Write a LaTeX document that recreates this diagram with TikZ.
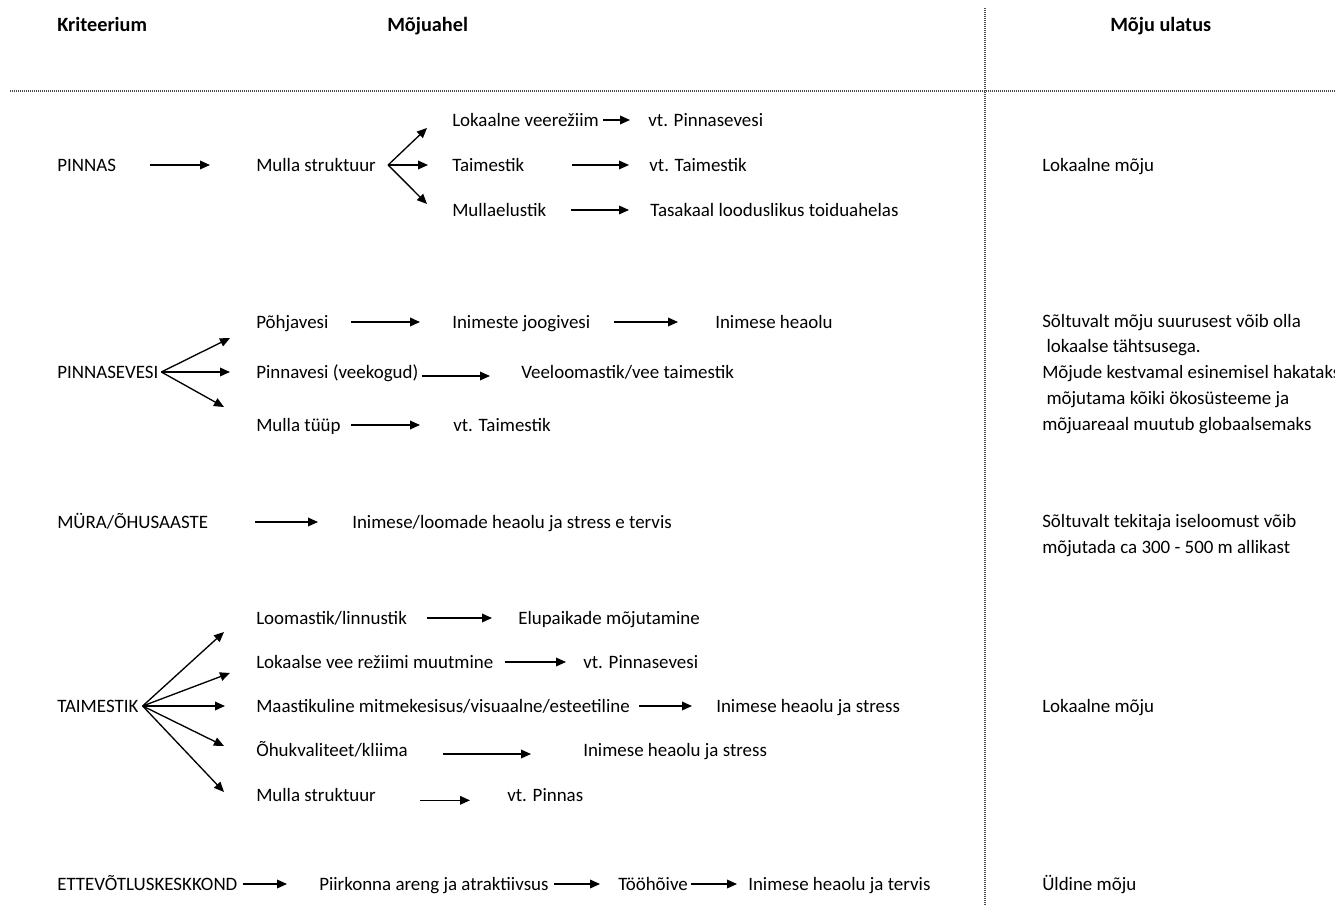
\documentclass[tikz,border=0pt]{standalone}
\usepackage{fontspec}
\setmainfont{Carlito}
\usetikzlibrary{arrows.meta}
\usetikzlibrary{positioning}
\tikzset {
  % one line of text, west anchor on the middle of the capitals
  item/.style = {
    anchor = west,
    inner sep = 0,
    text height = 11pt,
    text depth = 1.9pt,
    font = \fontsize{14.2}{17}\selectfont
  },
  head/.style = {
    item,
    font = \fontsize{15.2}{18}\selectfont\bfseries
  },
  % arrow between two texts
  arr/.style = {
    draw = black,
    line width = 1pt,
    -{Triangle[length = 7.5pt, width = 6.5pt]}
  },
  % gaps (in pixels) left at the start and end of an arrow
  gap/.style 2 args = {
    shorten <= #1*0.75pt,
    shorten >= #2*0.75pt
  },
  sep/.style = {
    draw = black!70,
    line width = 0.8pt,
    dash pattern = on 0.75pt off 0.75pt
  }
}

\begin{document}
\begin{tikzpicture}[x = 0.75pt, y = -0.75pt]
    \useasboundingbox (0,0) rectangle (1335,905);

    % header
    \node[head] (hd-krit) at (57,25) {Kriteerium};
    \node[head] (hd-ahel) at (387,25) {Mõjuahel};
    \node[head] (hd-ulatus) at (1110,25) {Mõju ulatus};
    \draw[sep] (10,91) -- (1335,91);
    \draw[sep] (985,8) -- (985,905);

    % PINNAS
    \node[item] (pinnas) at (57,165) {PINNAS};
    \node[item] (pinnas-mulla) at (256,165) {Mulla struktuur};
    \node[item] (pinnas-veer) at (452,120) {Lokaalne veerežiim};
    \node[item] (pinnas-taim) at (452,165) {Taimestik};
    \node[item] (pinnas-elus) at (452,210) {Mullaelustik};
    \node[item] (pinnas-veer-vt) at (648,120) {vt. Pinnasevesi};
    \node[item] (pinnas-taim-vt) at (649,165) {vt. Taimestik};
    \node[item] (pinnas-toit) at (650,210) {Tasakaal looduslikus toiduahelas};
    \node[item] (pinnas-ulatus) at (1042,165) {Lokaalne mõju};
    \coordinate [right = 9pt of pinnas-mulla] (pinnas-o);
    \coordinate (pinnas-t1) at (427,128);
    \coordinate (pinnas-t2) at (428,165);
    \coordinate (pinnas-t3) at (427,204);

    \draw[arr, gap = {34}{46}] (pinnas) -- (pinnas-mulla);
    \draw[arr] (pinnas-o) -- (pinnas-t1);
    \draw[arr] (pinnas-o) -- (pinnas-t2);
    \draw[arr] (pinnas-o) -- (pinnas-t3);
    \draw[arr, gap = {4}{18}] (pinnas-veer) -- (pinnas-veer-vt);
    \draw[arr, gap = {47}{20}] (pinnas-taim) -- (pinnas-taim-vt);
    \draw[arr, gap = {25}{21}] (pinnas-elus) -- (pinnas-toit);

    % PINNASEVESI
    \node[item] (vesi) at (57,372) {PINNASEVESI};
    \node[item] (vesi-pohja) at (256,322) {Põhjavesi};
    \node[item] (vesi-joogi) at (452,322) {Inimeste joogivesi};
    \node[item] (vesi-heaolu) at (715,322) {Inimese heaolu};
    \node[item] (vesi-pinna) at (256,372) {Pinnavesi (veekogud)};
    \node[item] (vesi-vee) at (521,372) {Veeloomastik/vee taimestik};
    \node[item] (vesi-tyyp) at (256,425) {Mulla tüüp};
    \node[item] (vesi-tyyp-vt) at (453,425) {vt. Taimestik};
    \foreach \txt [count = \i] in {Sõltuvalt mõju suurusest võib olla,
        \ lokaalse tähtsusega., Mõjude kestvamal esinemisel hakataks,
        \ mõjutama kõiki ökosüsteeme ja, mõjuareaal muutub globaalsemaks}
      \node[item] (vesi-ulatus-\i) at (1042,{321 + (\i-1)*25.8}) {\txt};
    \coordinate [right = 2pt of vesi] (vesi-o);
    \coordinate (vesi-t1) at (230,338);
    \coordinate (vesi-t2) at (230,372);
    \coordinate (vesi-t3) at (224,407);

    \draw[arr] (vesi-o) -- (vesi-t1);
    \draw[arr] (vesi-o) -- (vesi-t2);
    \draw[arr] (vesi-o) -- (vesi-t3);
    \draw[arr, gap = {22}{32}] (vesi-pohja) -- (vesi-joogi);
    \draw[arr, gap = {24}{37}] (vesi-joogi) -- (vesi-heaolu);
    \draw[arr, gap = {3}{31}] ([yshift = -3pt]vesi-pinna.east)
    -- ([yshift = -3pt]vesi-vee.west);
    \draw[arr, gap = {10}{33}] (vesi-tyyp) -- (vesi-tyyp-vt);

    % MÜRA/ÕHUSAASTE
    \node[item] (mura) at (57,522) {MÜRA/ÕHUSAASTE};
    \node[item] (mura-heaolu) at (352,522) {Inimese/loomade heaolu ja stress e tervis};
    \node[item] (mura-ulatus-1) at (1042,521) {Sõltuvalt tekitaja iseloomust võib};
    \node[item] (mura-ulatus-2) at (1042,547) {mõjutada ca 300 - 500 m allikast};

    \draw[arr, gap = {47}{34}] (mura) -- (mura-heaolu);

    % TAIMESTIK
    \node[item] (taim) at (57,706) {TAIMESTIK};
    \node[item] (taim-loom) at (256,618) {Loomastik/linnustik};
    \node[item] (taim-elu) at (518,618) {Elupaikade mõjutamine};
    \node[item] (taim-rez) at (256,662) {Lokaalse vee režiimi muutmine};
    \node[item] (taim-rez-vt) at (583,662) {vt. Pinnasevesi};
    \node[item] (taim-maas) at (256,706) {Maastikuline mitmekesisus/visuaalne/esteetiline};
    \node[item] (taim-maas-st) at (716,706) {Inimese heaolu ja stress};
    \node[item] (taim-ohk) at (256,750) {Õhukvaliteet/kliima};
    \node[item] (taim-ohk-st) at (583,750) {Inimese heaolu ja stress};
    \node[item] (taim-mulla) at (256,795) {Mulla struktuur};
    \node[item] (taim-mulla-vt) at (507,795) {vt. Pinnas};
    \node[item] (taim-ulatus) at (1042,706) {Lokaalne mõju};
    \coordinate [right = 3pt of taim] (taim-o);
    \coordinate (taim-t1) at (224,632);
    \coordinate (taim-t2) at (230,673);
    \coordinate (taim-t3) at (225,706);
    \coordinate (taim-t4) at (224,746);
    \coordinate (taim-t5) at (224,792);

    \foreach \t in {1,...,5}
      \draw[arr] (taim-o) -- (taim-t\t);
    \draw[arr, gap = {20}{26}] (taim-loom) -- (taim-elu);
    \draw[arr, gap = {11}{17}] (taim-rez) -- (taim-rez-vt);
    \draw[arr, gap = {9}{24}] (taim-maas) -- (taim-maas-st);
    \draw[arr, gap = {35}{52}] ([yshift = -3pt]taim-ohk.east)
    -- ([yshift = -3pt]taim-ohk-st.west);
    \draw[arr, gap = {44}{37}] ([yshift = -4pt]taim-mulla.east)
    -- ([yshift = -4pt]taim-mulla-vt.west);

    % ETTEVÕTLUSKESKKOND
    \node[item] (ette) at (57,884) {ETTEVÕTLUSKESKKOND};
    \node[item] (ette-piir) at (319,884) {Piirkonna areng ja atraktiivsus};
    \node[item] (ette-too) at (618,884) {Tööhõive};
    \node[item] (ette-heaolu) at (748,884) {Inimese heaolu ja tervis};
    \node[item] (ette-ulatus) at (1042,884) {Üldine mõju};

    \draw[arr, gap = {5}{32}] (ette) -- (ette-piir);
    \draw[arr, gap = {5}{18}] (ette-piir) -- (ette-too);
    \draw[arr, gap = {3}{11}] (ette-too) -- (ette-heaolu);
\end{tikzpicture}
\end{document}
